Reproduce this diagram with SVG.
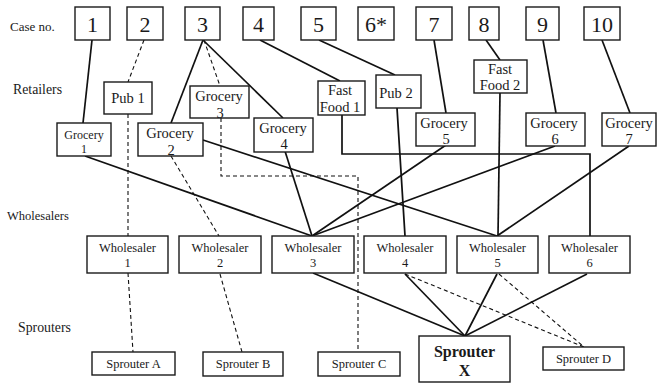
<svg xmlns="http://www.w3.org/2000/svg" width="658" height="383" viewBox="0 0 658 383" font-family="'Liberation Serif', 'Times New Roman', 'DejaVu Serif', serif">
<style>
text{fill:#1a1a1a;text-anchor:middle}
.lab{text-anchor:start;font-size:13px}
.box{fill:#fff;stroke:#1a1a1a;stroke-width:1.4}
.case{font-size:22px}
.g{font-size:14.5px}
.w{font-size:12.5px}
.s{font-size:12.5px}
.sol{fill:none;stroke:#111;stroke-width:1.7}
.dsh{fill:none;stroke:#111;stroke-width:1.1;stroke-dasharray:4 3}
</style>
<rect width="658" height="383" fill="#fff"/>
<g id="labels">
<text class="lab" x="10" y="31">Case no.</text>
<text class="lab" x="13" y="94" style="font-size:13.8px">Retailers</text>
<text class="lab" x="7" y="220" style="font-size:12.5px">Wholesalers</text>
<text class="lab" x="18" y="332" style="font-size:13.8px">Sprouters</text>
</g>
<g id="connectors">
<line class="sol" x1="92" y1="40" x2="83" y2="123"/>
<line class="sol" x1="203" y1="40" x2="171" y2="123"/>
<line class="sol" x1="203" y1="40" x2="283" y2="118"/>
<line class="sol" x1="260" y1="40" x2="340" y2="81"/>
<line class="sol" x1="319" y1="40" x2="395" y2="75"/>
<line class="sol" x1="434" y1="40" x2="446" y2="113"/>
<line class="sol" x1="486" y1="40" x2="500" y2="60"/>
<line class="sol" x1="543" y1="40" x2="556" y2="113"/>
<line class="sol" x1="602" y1="40" x2="630" y2="113"/>
<line class="dsh" x1="144" y1="40" x2="128" y2="82"/>
<line class="dsh" x1="204" y1="40" x2="220" y2="86"/>
<line class="dsh" x1="128" y1="114" x2="128" y2="236"/>
<line class="dsh" x1="128" y1="273" x2="133" y2="352"/>
<line class="dsh" x1="171" y1="156" x2="219" y2="236"/>
<line class="dsh" x1="220" y1="274" x2="242" y2="352"/>
<polyline class="dsh" points="221,118 221,176 358,176 358,352"/>
<line class="sol" x1="85" y1="156" x2="312" y2="236"/>
<line class="sol" x1="203" y1="140" x2="497" y2="236"/>
<line class="sol" x1="284" y1="148" x2="312" y2="236"/>
<line class="sol" x1="446" y1="145" x2="312" y2="236"/>
<line class="sol" x1="555" y1="146" x2="312" y2="236"/>
<polyline class="sol" points="342,115 342,154 590,154 590,236"/>
<line class="sol" x1="397" y1="108" x2="405" y2="236"/>
<line class="sol" x1="500" y1="93" x2="498" y2="236"/>
<line class="sol" x1="629" y1="146" x2="497" y2="236"/>
<line class="sol" x1="313" y1="273" x2="465" y2="336"/>
<line class="sol" x1="405" y1="274" x2="465" y2="336"/>
<line class="sol" x1="497" y1="274" x2="465" y2="336"/>
<line class="sol" x1="587" y1="274" x2="465" y2="336"/>
<line class="dsh" x1="405" y1="274" x2="584" y2="347"/>
<line class="dsh" x1="499" y1="274" x2="584" y2="347"/>
</g>
<g id="case1"><rect class="box" x="75" y="7" width="35" height="33"/><text class="case" x="92.5" y="32">1</text></g>
<g id="case2"><rect class="box" x="127" y="7" width="36" height="33"/><text class="case" x="145" y="32">2</text></g>
<g id="case3"><rect class="box" x="185" y="7" width="35" height="33"/><text class="case" x="202.5" y="32">3</text></g>
<g id="case4"><rect class="box" x="243" y="7" width="31" height="33"/><text class="case" x="258.5" y="32">4</text></g>
<g id="case5"><rect class="box" x="301" y="7" width="35" height="33"/><text class="case" x="318.5" y="32">5</text></g>
<g id="case6"><rect class="box" x="358" y="7" width="36" height="33"/><text class="case" x="376" y="32">6*</text></g>
<g id="case7"><rect class="box" x="416" y="7" width="36" height="33"/><text class="case" x="434" y="32">7</text></g>
<g id="case8"><rect class="box" x="469" y="7" width="30" height="33"/><text class="case" x="484" y="32">8</text></g>
<g id="case9"><rect class="box" x="526" y="7" width="33" height="33"/><text class="case" x="542.5" y="32">9</text></g>
<g id="case10"><rect class="box" x="584" y="7" width="36" height="33"/><text class="case" x="602" y="32">10</text></g>
<g id="pub1"><rect class="box" x="104" y="82" width="48" height="32"/><text class="g" x="128" y="103">Pub 1</text></g>
<g id="grocery3"><rect class="box" x="190" y="86" width="59" height="32"/><text class="g" x="219" y="101">Grocery</text><text class="g" x="220" y="118">3</text></g>
<g id="fastfood1"><rect class="box" x="318" y="81" width="47" height="34"/><text class="g" x="340" y="95">Fast</text><text class="g" x="340" y="112">Food 1</text></g>
<g id="pub2"><rect class="box" x="376" y="75" width="45" height="33"/><text class="g" x="396" y="98">Pub 2</text></g>
<g id="fastfood2"><rect class="box" x="474" y="60" width="53" height="33"/><text class="g" x="500" y="74">Fast</text><text class="g" x="500" y="90">Food 2</text></g>
<g id="grocery1"><rect class="box" x="57" y="123" width="54" height="33"/><text class="g" x="84" y="139" style="font-size:12px">Grocery</text><text class="g" x="84" y="153" style="font-size:12px">1</text></g>
<g id="grocery2"><rect class="box" x="138" y="123" width="65" height="33"/><text class="g" x="170" y="138">Grocery</text><text class="g" x="171" y="155">2</text></g>
<g id="grocery4"><rect class="box" x="254" y="118" width="59" height="34"/><text class="g" x="283" y="133">Grocery</text><text class="g" x="284" y="149">4</text></g>
<g id="grocery5"><rect class="box" x="416" y="113" width="59" height="33"/><text class="g" x="444" y="128">Grocery</text><text class="g" x="446" y="144">5</text></g>
<g id="grocery6"><rect class="box" x="526" y="113" width="59" height="33"/><text class="g" x="554" y="128">Grocery</text><text class="g" x="555" y="144">6</text></g>
<g id="grocery7"><rect class="box" x="602" y="113" width="54" height="33"/><text class="g" x="629" y="128">Grocery</text><text class="g" x="629" y="144">7</text></g>
<g id="wholesaler1"><rect class="box" x="87" y="236" width="81" height="37"/><text class="w" x="127.5" y="252">Wholesaler</text><text class="w" x="127.5" y="267">1</text></g>
<g id="wholesaler2"><rect class="box" x="179" y="236" width="82" height="37"/><text class="w" x="220" y="252">Wholesaler</text><text class="w" x="220" y="267">2</text></g>
<g id="wholesaler3"><rect class="box" x="272" y="236" width="82" height="37"/><text class="w" x="313" y="252">Wholesaler</text><text class="w" x="313" y="267">3</text></g>
<g id="wholesaler4"><rect class="box" x="364" y="236" width="82" height="37"/><text class="w" x="405" y="252">Wholesaler</text><text class="w" x="405" y="267">4</text></g>
<g id="wholesaler5"><rect class="box" x="457" y="236" width="81" height="37"/><text class="w" x="497.5" y="252">Wholesaler</text><text class="w" x="497.5" y="267">5</text></g>
<g id="wholesaler6"><rect class="box" x="549" y="236" width="81" height="37"/><text class="w" x="589.5" y="252">Wholesaler</text><text class="w" x="589.5" y="267">6</text></g>
<g id="sprouterA"><rect class="box" x="92" y="352" width="83" height="23"/><text class="s" x="133.5" y="368">Sprouter A</text></g>
<g id="sprouterB"><rect class="box" x="203" y="352" width="80" height="24"/><text class="s" x="243" y="368">Sprouter B</text></g>
<g id="sprouterC"><rect class="box" x="318" y="352" width="82" height="24"/><text class="s" x="359" y="368">Sprouter C</text></g>
<g id="sprouterX"><rect class="box" x="419" y="336" width="91" height="46"/><text x="464.5" y="357" style="font-size:16px;font-weight:bold">Sprouter</text><text x="464.5" y="376" style="font-size:16px;font-weight:bold">X</text></g>
<g id="sprouterD"><rect class="box" x="543" y="347" width="81" height="23"/><text class="s" x="583.5" y="363">Sprouter D</text></g>
</svg>
